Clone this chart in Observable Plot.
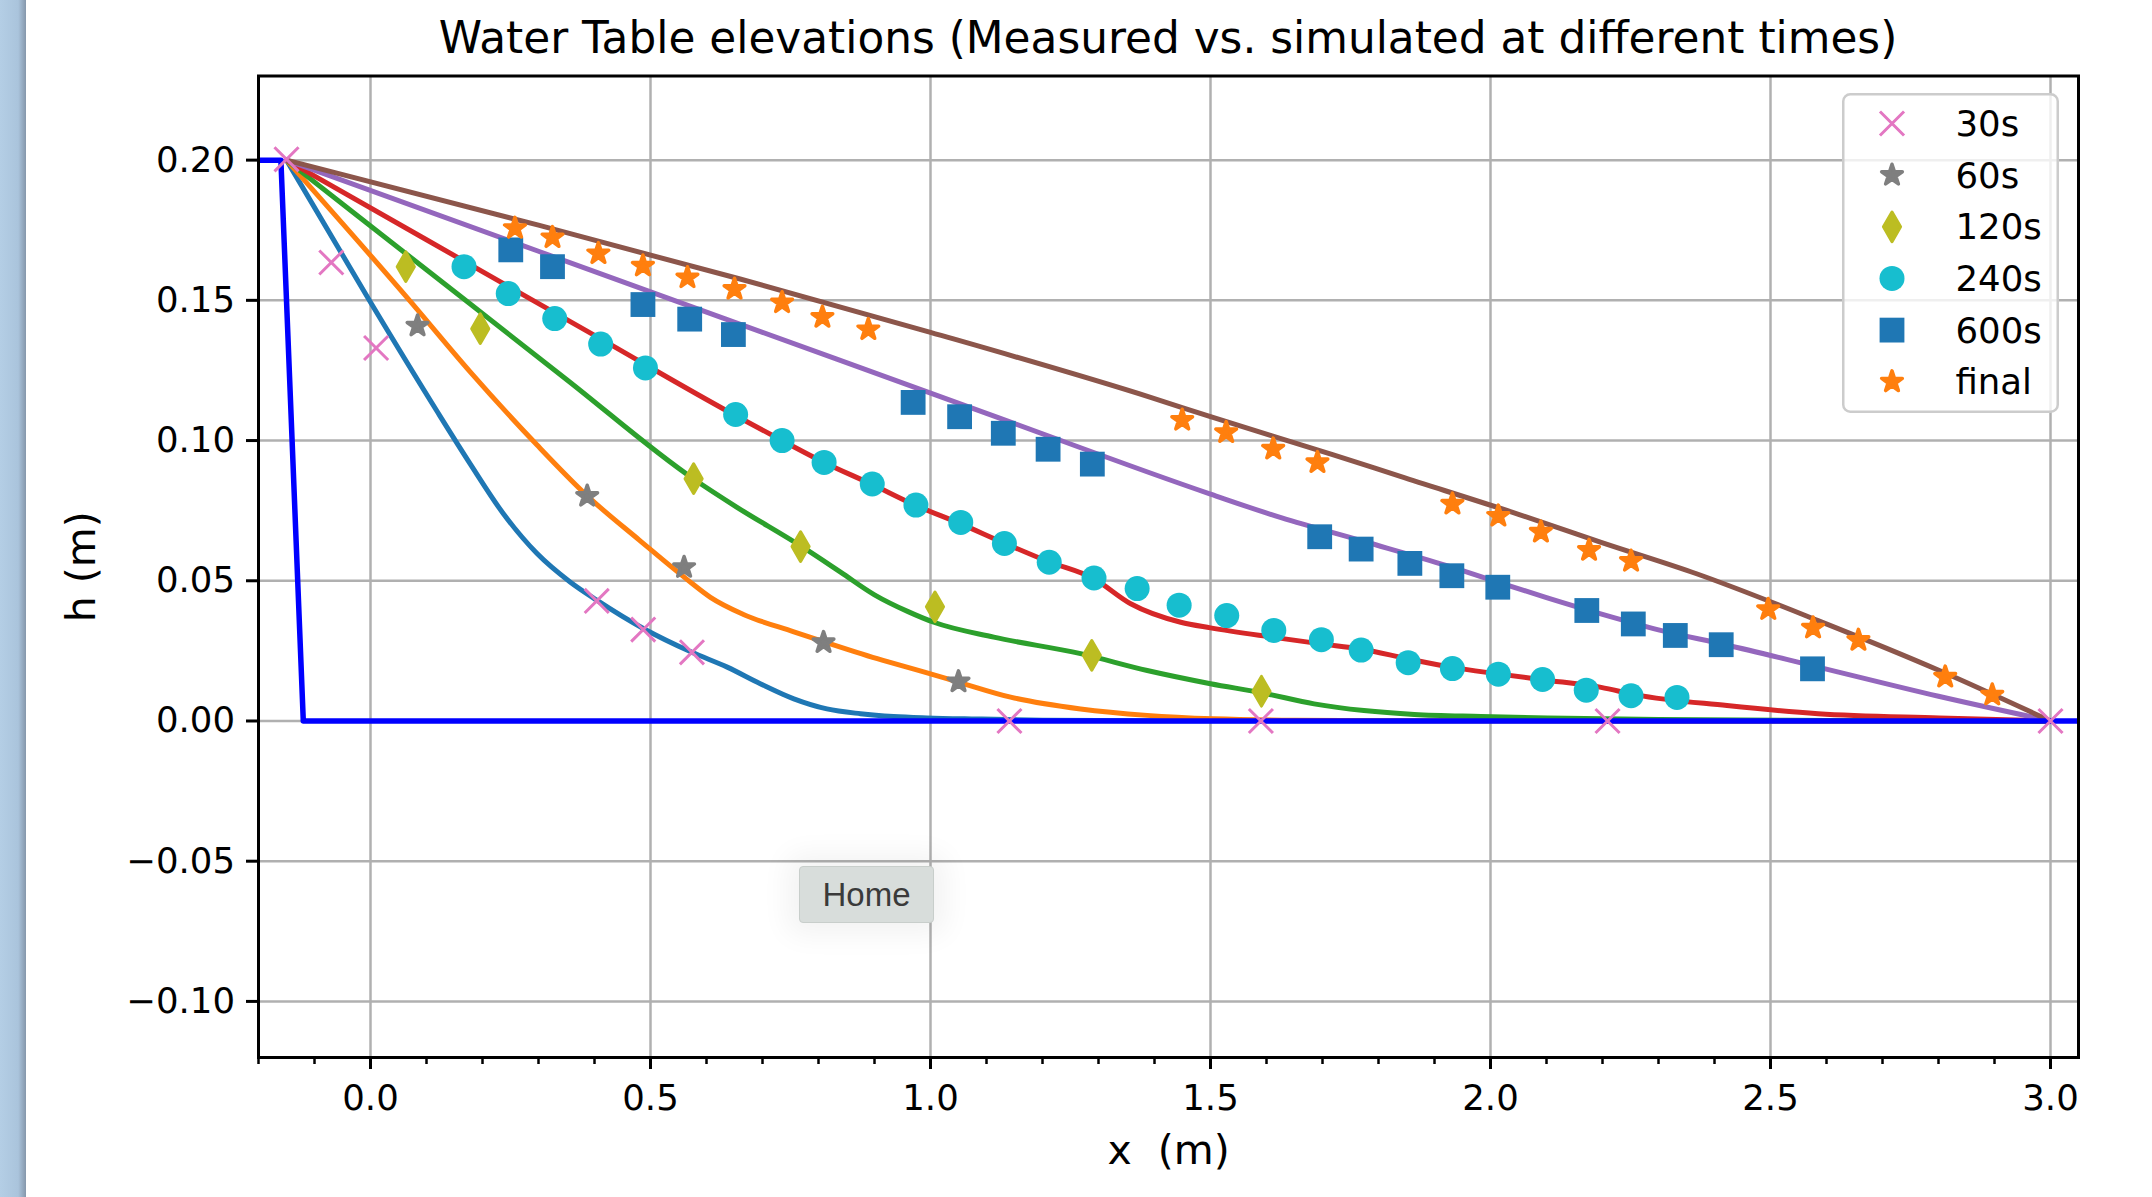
<!DOCTYPE html>
<html>
<head>
<meta charset="utf-8">
<script src="https://cdn.jsdelivr.net/npm/d3@7"></script>
<script src="https://cdn.jsdelivr.net/npm/@observablehq/plot@0.6"></script>
<style>
  html, body { margin: 0; padding: 0; background: #fff; }
  #page { position: relative; width: 2152px; height: 1197px; overflow: hidden; background: #fff; font-family: "DejaVu Sans", sans-serif; }
  #sidebar { position: absolute; left: 0; top: 0; width: 26px; height: 1197px;
    background: linear-gradient(to right, #b4cee5 0%, #aac4dc 70%, #8597ab 100%); }
  #title { position: absolute; left: 258px; top: 0; width: 1820px; height: 75px; line-height: 76px;
    text-align: center; font-size: 43.8px; color: #000; white-space: nowrap; }
  #chart { position: absolute; left: 0; top: 60px; }
  #legend { position: absolute; left: 1842px; top: 93px; width: 217px; height: 320px; }
  #home { position: absolute; left: 799px; top: 866px; width: 135px; height: 57px; box-sizing: border-box;
    background: #d8dddb; border: 1px solid #c8cecb; border-radius: 4px;
    box-shadow: 0 0 28px 12px rgba(0,0,0,0.05);
    font-family: "Liberation Sans", Arial, sans-serif; font-size: 33px; color: #3a3a3a;
    line-height: 55px; text-align: center; }
</style>
</head>
<body>
<div id="page">
  <div id="sidebar"></div>
  <div id="title">Water Table elevations (Measured vs. simulated at different times)</div>
  <div id="chart"></div>
  <div id="legend"></div>
  <div id="home">Home</div>
</div>
<script>
// ---------- Axis ticks ----------
const xTicks = [0.0, 0.5, 1.0, 1.5, 2.0, 2.5, 3.0];
const xMinorTicks = [-0.2, -0.1, 0.0, 0.1, 0.2, 0.3, 0.4, 0.5, 0.6, 0.7, 0.8, 0.9, 1.0, 1.1, 1.2, 1.3, 1.4, 1.5,
  1.6, 1.7, 1.8, 1.9, 2.0, 2.1, 2.2, 2.3, 2.4, 2.5, 2.6, 2.7, 2.8, 2.9, 3.0];
const yTicks = [-0.10, -0.05, 0.00, 0.05, 0.10, 0.15, 0.20];
const xDomain = [-0.2, 3.05];
const yDomain = [-0.12, 0.23];

// ---------- Labels ----------
const titleText = "Water Table elevations (Measured vs. simulated at different times)";
const xLabel = "x\u00a0 (m)";
const yLabel = "h (m)";
const legendLabels = ["30s", "60s", "120s", "240s", "600s", "final"];

// ---------- Measured points ----------
const m30x = [-0.150, -0.070, 0.010, 0.404, 0.487, 0.574, 1.141, 1.590, 2.209, 3.000];
const m30y = [0.2003, 0.1635, 0.1330, 0.0428, 0.0326, 0.0245, 0.0, 0.0, 0.0, 0.0];

const m60x = [0.084, 0.387, 0.560, 0.809, 1.050];
const m60y = [0.1409, 0.0802, 0.0548, 0.0280, 0.0140];

const m120x = [0.063, 0.196, 0.577, 0.768, 1.008, 1.288, 1.591];
const m120y = [0.1620, 0.1399, 0.0864, 0.0622, 0.0407, 0.0234, 0.0106];

const m240x = [0.167, 0.246, 0.329, 0.411, 0.491, 0.652, 0.735, 0.810, 0.896, 0.974, 1.054, 1.132, 1.212,
  1.292, 1.369, 1.444, 1.529, 1.613, 1.698, 1.769, 1.853, 1.932, 2.014, 2.093, 2.171, 2.251, 2.333];
const m240y = [0.1620, 0.1524, 0.1435, 0.1344, 0.1259, 0.1093, 0.1000, 0.0922, 0.0845, 0.0770, 0.0708, 0.0633, 0.0566,
  0.0510, 0.0472, 0.0413, 0.0376, 0.0323, 0.0290, 0.0253, 0.0208, 0.0187, 0.0167, 0.0148, 0.0110, 0.0090, 0.0084];

const m600x = [0.2505, 0.325, 0.4865, 0.570, 0.648, 0.969, 1.052, 1.130, 1.210, 1.289, 1.695, 1.769, 1.856,
  1.931, 2.013, 2.172, 2.255, 2.330, 2.412, 2.575];
const m600y = [0.1680, 0.1620, 0.1485, 0.1433, 0.1378, 0.1136, 0.1085, 0.1026, 0.0969, 0.0916, 0.0657, 0.0613, 0.0562,
  0.0518, 0.0477, 0.0394, 0.0346, 0.0305, 0.0272, 0.0186];

const mFinx = [0.258, 0.325, 0.407, 0.4865, 0.566, 0.650, 0.735, 0.807, 0.889, 1.4495, 1.528, 1.612, 1.691,
  1.932, 2.014, 2.090, 2.176, 2.251, 2.496, 2.576, 2.657, 2.812, 2.896];
const mFiny = [0.1757, 0.1724, 0.1667, 0.1623, 0.1581, 0.1540, 0.1492, 0.1440, 0.1396, 0.1073, 0.1029, 0.0970, 0.0922,
  0.0774, 0.0731, 0.0674, 0.0609, 0.0570, 0.0398, 0.0332, 0.0288, 0.0157, 0.0093];

// ---------- Simulated profiles ----------
const s30x = [-0.15, 0.0, 0.118, 0.178, 0.237, 0.297, 0.357, 0.404, 0.488, 0.574, 0.637, 0.696, 0.756, 0.815,
  0.875, 0.934, 0.994, 1.083, 1.2, 1.4, 3.0];
const s30y = [0.200, 0.1493, 0.1107, 0.0917, 0.0740, 0.0598, 0.0495, 0.0431, 0.0329, 0.0245, 0.0192, 0.0133, 0.0079, 0.0043,
  0.0026, 0.0016, 0.0011, 0.0007, 0.0003, 0.0001, 0.0];

const s60x = [-0.15, 0.07, 0.178, 0.297, 0.3875, 0.48, 0.565, 0.607, 0.666, 0.756, 0.809, 0.905, 1.0, 1.051,
  1.143, 1.268, 1.387, 1.506, 1.65, 1.9, 3.0];
const s60y = [0.200, 0.1499, 0.1245, 0.0985, 0.0802, 0.0645, 0.0505, 0.0441, 0.0380, 0.0318, 0.0283, 0.0222, 0.0168, 0.0138,
  0.0085, 0.0043, 0.0020, 0.0008, 0.0003, 0.0001, 0.0];

const s120x = [-0.15, 0.1, 0.35, 0.577, 0.6545, 0.7676, 0.84, 0.90, 0.96, 1.006, 1.113, 1.268, 1.387, 1.50, 1.593,
  1.685, 1.774, 1.864, 1.983, 2.102, 2.3, 2.6, 3.0];
const s120y = [0.200, 0.1609, 0.1218, 0.0863, 0.0762, 0.0625, 0.0530, 0.0450, 0.0390, 0.0352, 0.0299, 0.0240, 0.0180, 0.0133, 0.0100,
  0.0061, 0.0037, 0.0023, 0.0016, 0.0011, 0.0005, 0.0002, 0.0];

const s240x = [-0.15, 0.1, 0.4, 0.65, 0.735, 0.810, 0.896, 0.972, 1.054, 1.131, 1.211, 1.291, 1.3575, 1.4468, 1.5,
  1.61, 1.697, 1.7685, 1.852, 1.929, 2.013, 2.093, 2.1975, 2.26, 2.4223, 2.585, 2.8015, 3.0];
const s240y = [0.200, 0.1716, 0.1375, 0.1091, 0.1000, 0.0922, 0.0843, 0.0770, 0.0703, 0.0635, 0.0568, 0.0508, 0.0418, 0.0352, 0.0332,
  0.0299, 0.0275, 0.0257, 0.0222, 0.0192, 0.0168, 0.0147, 0.0120, 0.0093, 0.0055, 0.0026, 0.0011, 0.0];

const s600x = [-0.15, 0.3, 0.7, 1.1, 1.5, 1.626, 1.7744, 1.9235, 2.0009, 2.1, 2.2, 2.3, 2.42, 2.585, 2.8, 3.0];
const s600y = [0.200, 0.1675, 0.1386, 0.1097, 0.0809, 0.0725, 0.0640, 0.0553, 0.0503, 0.0440, 0.0380, 0.0325, 0.0272, 0.0192, 0.0088, 0.0];

const sFinx = [-0.15, 0.3, 0.66, 1.0, 1.393, 1.5, 1.718, 1.839, 2.05, 2.1975, 2.368, 2.585, 2.8015, 3.0];
const sFiny = [0.200, 0.1768, 0.1576, 0.1386, 0.1154, 0.1085, 0.0950, 0.0872, 0.0737, 0.0637, 0.0525, 0.0358, 0.0180, 0.0];

// Initial condition (blue)
const initX = [-0.2, -0.16, -0.12, 3.05];
const initY = [0.2, 0.2, 0.0, 0.0];

// ---------- Build ----------
const pts = (xs, ys) => xs.map((x, i) => ({x, y: ys[i]}));

const simSeries = [
  {data: pts(s30x, s30y), color: "#1f77b4"},
  {data: pts(s60x, s60y), color: "#ff7f0e"},
  {data: pts(s120x, s120y), color: "#2ca02c"},
  {data: pts(s240x, s240y), color: "#d62728"},
  {data: pts(s600x, s600y), color: "#9467bd"},
  {data: pts(sFinx, sFiny), color: "#8c564b"}
];

// edge: stroke in the marker's own colour (like matplotlib's marker edge)
const measSeries = [
  {label: legendLabels[0], data: pts(m30x, m30y), symbol: "times", color: "#e377c2", r: 11, outline: true, edge: 3},
  {label: legendLabels[1], data: pts(m60x, m60y), symbol: "star", color: "#7f7f7f", r: 6.5, edge: 3.5},
  {label: legendLabels[2], data: pts(m120x, m120y), symbol: "diamond", color: "#bcbd22", r: 9, edge: 3},
  {label: legendLabels[3], data: pts(m240x, m240y), symbol: "circle", color: "#17becf", r: 12.5, edge: 0},
  {label: legendLabels[4], data: pts(m600x, m600y), symbol: "square", color: "#1f77b4", r: 14, edge: 0},
  {label: legendLabels[5], data: pts(mFinx, mFiny), symbol: "star", color: "#ff7f0e", r: 6.5, edge: 3.5}
];

const dotMark = s => s.outline
  ? Plot.dot(s.data, {x: "x", y: "y", symbol: s.symbol, r: s.r, stroke: s.color, strokeWidth: s.edge, fill: "none", clip: true})
  : (s.edge > 0
    ? Plot.dot(s.data, {x: "x", y: "y", symbol: s.symbol, r: s.r, fill: s.color, stroke: s.color,
        strokeWidth: s.edge, strokeLinejoin: "round", clip: true})
    : Plot.dot(s.data, {x: "x", y: "y", symbol: s.symbol, r: s.r, fill: s.color, clip: true}));

const marks = [
  Plot.gridX(xTicks, {stroke: "#b0b0b0", strokeOpacity: 1, strokeWidth: 2.5}),
  Plot.gridY(yTicks, {stroke: "#b0b0b0", strokeOpacity: 1, strokeWidth: 2.5}),
  ...simSeries.map(s => Plot.line(s.data, {x: "x", y: "y", stroke: s.color, strokeWidth: 5,
    curve: "monotone-x", strokeLinejoin: "round", clip: true})),
  Plot.line(pts(initX, initY), {x: "x", y: "y", stroke: "#0000ff", strokeWidth: 5.5, strokeLinejoin: "round", clip: true}),
  ...measSeries.map(dotMark),
  Plot.frame({stroke: "black", strokeWidth: 3}),
  Plot.axisX(xMinorTicks, {anchor: "bottom", tickSize: 7, strokeWidth: 2.5, tickFormat: () => "", label: null}),
  Plot.axisX(xTicks, {anchor: "bottom", tickSize: 12, tickPadding: 15, strokeWidth: 3,
    tickFormat: d3.format(".1f"), fontSize: 35.5, label: null}),
  Plot.axisY(yTicks, {anchor: "left", tickSize: 12, tickPadding: 11.5, strokeWidth: 3,
    tickFormat: d3.format(".2f"), fontSize: 35.5, label: null}),
  Plot.text([xLabel], {text: d => d, frameAnchor: "bottom", textAnchor: "middle", lineAnchor: "middle",
    dy: 93.5, fontSize: 41, fill: "black"}),
  Plot.text([yLabel], {text: d => d, frameAnchor: "left", textAnchor: "middle", lineAnchor: "middle",
    rotate: -90, dx: -176.5, fontSize: 41, fill: "black"})
];

const chart = Plot.plot({
  width: 2152,
  height: 1137,
  marginTop: 15.5,
  marginBottom: 140,
  marginLeft: 258,
  marginRight: 74,
  x: {domain: xDomain, axis: null, grid: false},
  y: {domain: yDomain, axis: null, grid: false},
  style: {fontFamily: "DejaVu Sans", fontSize: "35.5px", color: "black", background: "transparent", overflow: "visible"},
  marks
});
document.getElementById("chart").appendChild(chart);
document.getElementById("title").textContent = titleText;

// ---------- Legend (inside the axes, upper right) ----------
const symbolTypes = {times: d3.symbolTimes, star: d3.symbolStar, diamond: d3.symbolDiamond,
  circle: d3.symbolCircle, square: d3.symbolSquare};
const lw = 217, lh = 320;
const lsvg = d3.select("#legend").append("svg").attr("width", lw).attr("height", lh)
  .style("overflow", "visible");
lsvg.append("rect").attr("x", 1.25).attr("y", 1.25).attr("width", lw - 2.5).attr("height", lh - 2.5)
  .attr("rx", 7).attr("fill", "white").attr("fill-opacity", 0.8)
  .attr("stroke", "#cccccc").attr("stroke-width", 2.5);
measSeries.forEach((s, i) => {
  const cy = 30.5 + 51.65 * i;
  const path = d3.symbol(symbolTypes[s.symbol], Math.PI * s.r * s.r)();
  const p = lsvg.append("path").attr("d", path).attr("transform", `translate(50,${cy})`);
  if (s.outline) p.attr("fill", "none").attr("stroke", s.color).attr("stroke-width", s.edge);
  else {
    p.attr("fill", s.color);
    if (s.edge > 0) p.attr("stroke", s.color).attr("stroke-width", s.edge).attr("stroke-linejoin", "round");
  }
  lsvg.append("text").attr("x", 113.5).attr("y", cy).attr("dy", "0.35em")
    .attr("font-family", "DejaVu Sans").attr("font-size", 35.5).attr("fill", "black").text(s.label);
});
</script>
</body>
</html>
